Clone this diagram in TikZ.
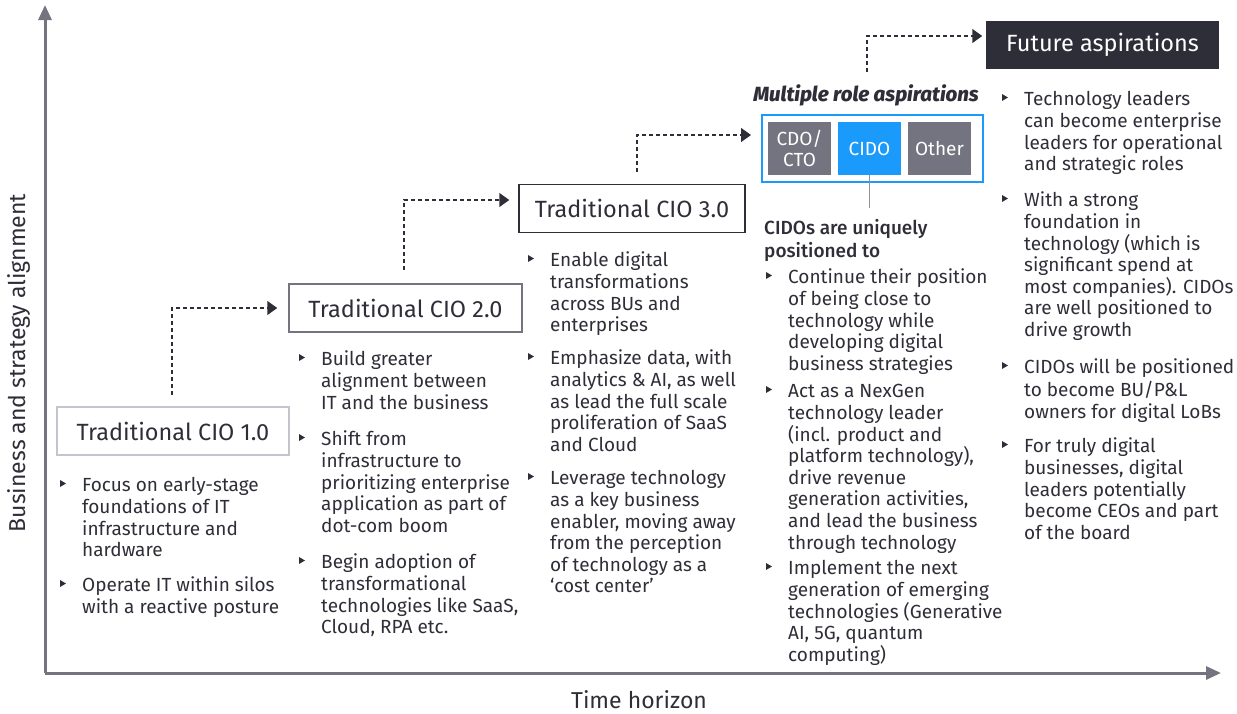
\documentclass[tikz,border=0pt]{standalone}
\usepackage{fontspec}
\setmainfont{Fira Sans}
\newfontfamily\fmed{Fira Sans Medium}
\usetikzlibrary{arrows.meta,calc}
\definecolor{txt}{HTML}{2E2E38}
\definecolor{axisgray}{HTML}{747480}
\definecolor{lightgray}{HTML}{C4C4CD}
\definecolor{eyblue}{HTML}{1A9AFA}
\newcommand\bitem[4]{%
  \fill[txt] (#2-22,#3-12) -- (#2-22,#3-5) -- (#2-16,#3-8.5) -- cycle;
  \node[body,anchor=north west] (#1) at (#2,#3-15.4) {\strut #4};
}
\begin{document}
\begin{tikzpicture}[x=1pt,y=-1pt,
  body/.style={font=\fontsize{19}{21.6}\selectfont,text=txt,align=left,inner sep=0pt},
  title/.style={font=\fontsize{23.5}{26}\selectfont,text=txt,inner sep=0pt,minimum height=48pt,line width=1.5pt},
  rolebox/.style={font=\fontsize{19}{21}\selectfont,text=white,align=center,inner sep=0pt,minimum width=63pt,minimum height=53pt},
  dasharrow/.style={draw=txt,line width=1.5pt,dash pattern=on 4pt off 3pt,-{Triangle[length=10pt,width=14pt]}},
  axis/.style={draw=axisgray,line width=3pt,-{Triangle[length=15pt,width=13pt]}},
  axislabel/.style={font=\fontsize{23}{26}\selectfont,text=txt,inner sep=0pt}]
\useasboundingbox (0,0) rectangle (1237,713);

% axes
\coordinate (origin) at (45,673);
\coordinate (ytip) at (45,5);
\coordinate (xtip) at (1221,673);
\draw[axis] (origin) -- (ytip);
\draw[axis] (origin) -- (xtip);
\node[axislabel,rotate=90] (ylab) at (19,363) {Business and strategy alignment};
\node[axislabel] (xlab) at (639,700) {Time horizon};

% stage boxes
\node[title,draw=lightgray,minimum width=232pt] (b1) at (173,431) {Traditional CIO 1.0};
\node[title,draw=axisgray,minimum width=233pt] (b2) at (405.5,308) {Traditional CIO 2.0};
\node[title,draw=txt,minimum width=226pt] (b3) at (632,208.5) {Traditional CIO 3.0};
\node[title,fill=txt,text=white,minimum width=233pt] (fut) at (1102.5,44.5) {Future aspirations};

% multiple roles
\node[font=\fmed\itshape\bfseries\fontsize{20.5}{23}\selectfont,text=txt,inner sep=0pt,anchor=base] (mra) at (866,101) {Multiple role aspirations};
\node[draw=eyblue,line width=2pt,minimum width=221pt,minimum height=67pt,inner sep=0pt] (multi) at (872.5,148.5) {};
\node[rolebox,fill=axisgray] (cdo) at (799.5,148.5) {CDO/\\CTO};
\node[rolebox,fill=eyblue] (cido) at (869.5,148.5) {CIDO};
\node[rolebox,fill=axisgray] (other) at (939.5,148.5) {Other};
\coordinate (cidoend) at (869.5,208);
\draw[axisgray!80,line width=1pt] (cido.south) -- (cidoend);

% dashed arrows
\coordinate (s1) at (172,395);
\coordinate (s2) at (404,270);
\coordinate (s3) at (637,172);
\coordinate (s4) at (867,72);
\draw[dasharrow,shorten >=11pt] (s1) |- (b2.west);
\draw[dasharrow,shorten >=9pt] (s2) |- ([yshift=8.5pt]b3.west);
\draw[dasharrow,shorten >=10pt] (s3) |- ([yshift=13.5pt]multi.west);
\draw[dasharrow,shorten >=3pt] (s4) |- ([yshift=8.5pt]fut.west);

% column 1
\bitem{c1a}{82}{492}{Focus on early-stage\\foundations of IT\\infrastructure and\\hardware}
\bitem{c1b}{82}{592}{Operate IT within silos\\with a reactive posture}

% column 2
\bitem{c2a}{321}{366}{Build greater\\alignment between\\IT and the business}
\bitem{c2b}{321}{446}{Shift from\\infrastructure to\\prioritizing enterprise\\application as part of\\dot-com boom}
\bitem{c2c}{321}{569}{Begin adoption of\\transformational\\technologies like SaaS,\\Cloud, RPA etc.}

% column 3
\bitem{c3a}{550}{267}{Enable digital\\transformations\\across BUs and\\enterprises}
\bitem{c3b}{550}{365}{Emphasize data, with\\analytics \& AI, as well\\as lead the full scale\\proliferation of SaaS\\and Cloud}
\bitem{c3c}{550}{485}{Leverage technology\\as a key business\\enabler, moving away\\from the perception\\of technology as a\\‘cost center’}

% column 4
\node[body,font=\fmed\fontsize{19}{21.6}\selectfont,anchor=north west] (cidohead) at (764,235-15.4) {\strut CIDOs are uniquely\\positioned to};
\bitem{c4a}{788}{284}{Continue their position\\of being close to\\technology while\\developing digital\\business strategies}
\bitem{c4b}{788}{398}{Act as a NexGen\\technology leader\\(incl. product and\\platform technology),\\drive revenue\\generation activities,\\and lead the business\\through technology}
\bitem{c4c}{788}{575}{Implement the next\\generation of emerging\\technologies (Generative\\AI, 5G, quantum\\computing)}

% column 5
\bitem{c5a}{1024}{106}{Technology leaders\\can become enterprise\\leaders for operational\\and strategic roles}
\bitem{c5b}{1024}{207}{With a strong\\foundation in\\technology (which is\\significant spend at\\most companies). CIDOs\\are well positioned to\\drive growth}
\bitem{c5c}{1024}{374}{CIDOs will be positioned\\to become BU/P\&L\\owners for digital LoBs}
\bitem{c5d}{1024}{453}{For truly digital\\businesses, digital\\leaders potentially\\become CEOs and part\\of the board}
\end{tikzpicture}
\end{document}
